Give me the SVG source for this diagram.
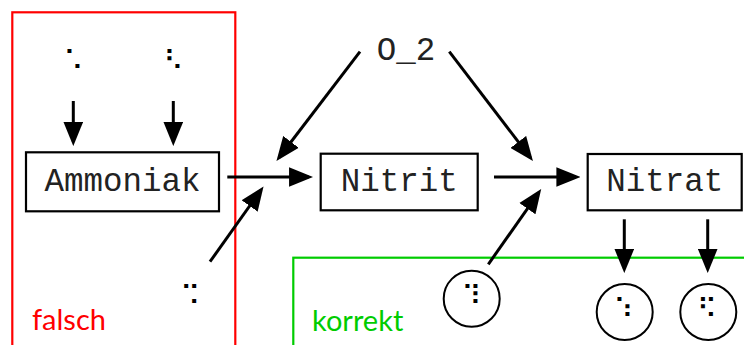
<svg xmlns="http://www.w3.org/2000/svg" width="744" height="345" viewBox="0 0 744 345">
<style>
.box{fill:#fff;stroke:#000;stroke-width:2.2}
.lbl{font-family:"Liberation Mono","Courier New",monospace;font-size:32.5px;fill:#222;text-anchor:middle}
.br{font-family:"DejaVu Sans",sans-serif;font-size:27px;fill:#000;text-anchor:middle}
.circ{fill:#fff;stroke:#000;stroke-width:2}
.con{stroke:#000;stroke-width:3;fill:none;marker-end:url(#ah)}
.zone{font-family:Lato,"Open Sans",sans-serif;font-size:29px}
</style>
<defs>
<marker id="ah" markerUnits="userSpaceOnUse" markerWidth="24" markerHeight="20" refX="18" refY="9" orient="auto" viewBox="0 0 22 18">
<path d="M0,0 L22,9 L0,18 Z" fill="#000"/>
</marker>
</defs>
<g id="zone-falsch">
<rect x="12.3" y="12.3" width="223" height="345" fill="none" stroke="#f00" stroke-width="2.2"/>
<text x="32" y="330" class="zone" fill="#f00">falsch</text>
</g>
<g id="zone-korrekt">
<rect x="293.3" y="257.7" width="470" height="100" fill="none" stroke="#00cc00" stroke-width="2.2"/>
<text x="312" y="331" class="zone" fill="#00cc00">korrekt</text>
</g>
<g id="connectors">
<line class="con" x1="73.3" y1="101" x2="73.3" y2="141.7"/>
<line class="con" x1="173.3" y1="101" x2="173.3" y2="141.7"/>
<line class="con" x1="227.3" y1="177" x2="308.7" y2="177"/>
<line class="con" x1="360" y1="51.7" x2="279.1" y2="157.5"/>
<line class="con" x1="449.3" y1="51.7" x2="530.3" y2="157.5"/>
<line class="con" x1="210" y1="261.7" x2="261" y2="190"/>
<line class="con" x1="494" y1="177" x2="576" y2="177"/>
<line class="con" x1="488.3" y1="264.3" x2="538.7" y2="192.6"/>
<line class="con" x1="624.3" y1="219.3" x2="624.3" y2="268.7"/>
<line class="con" x1="707.7" y1="219.3" x2="707.7" y2="268.7"/>
</g>
<g id="in1"><text class="br" x="73.3" y="70">⠡</text></g>
<g id="in2"><text class="br" x="173.3" y="70">⠣</text></g>
<g id="in3"><text class="br" x="190.2" y="305">⠩</text></g>
<g id="o2"><text class="lbl" x="406" y="60">O_2</text></g>
<g id="ammoniak">
<rect class="box" x="26" y="152.3" width="193" height="59"/>
<text class="lbl" x="122.5" y="191">Ammoniak</text>
</g>
<g id="nitrit">
<rect class="box" x="320.7" y="153.7" width="157" height="56.6"/>
<text class="lbl" x="399.2" y="191">Nitrit</text>
</g>
<g id="nitrat">
<rect class="box" x="587.7" y="154" width="154" height="56.3"/>
<text class="lbl" x="664.7" y="191">Nitrat</text>
</g>
<g id="c1">
<circle class="circ" cx="471.7" cy="298.7" r="28"/>
<text class="br" x="471.5" y="305">⠹</text>
</g>
<g id="c2">
<circle class="circ" cx="624.7" cy="312" r="28"/>
<text class="br" x="623.5" y="318">⠱</text>
</g>
<g id="c3">
<circle class="circ" cx="708.3" cy="312" r="28"/>
<text class="br" x="706.9" y="318">⠫</text>
</g>
</svg>
